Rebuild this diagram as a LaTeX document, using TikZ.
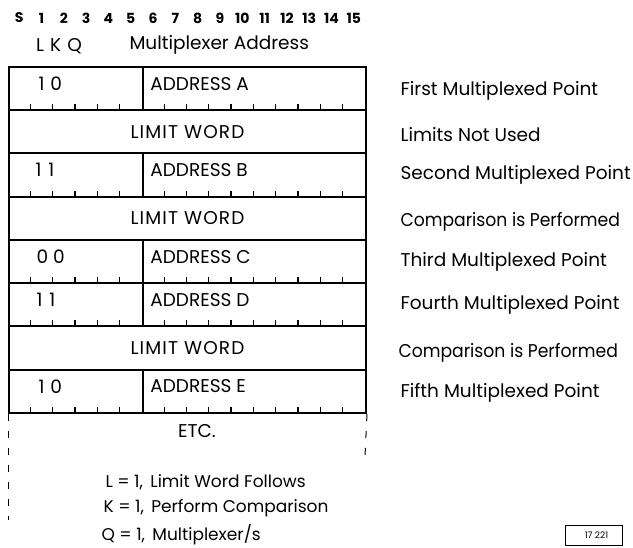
\documentclass[tikz,border=0pt]{standalone}
\usepackage{fontspec}
\setmainfont{Poppins}
\begin{document}
\begin{tikzpicture}[x=1pt, y=-1pt,
    every node/.style={font=\fontsize{18.5}{22}\selectfont},
    field/.style={draw, line width=2pt, minimum height=43.25pt, inner sep=0pt, anchor=north west},
    wide/.style={font=\fontsize{18.5}{22}\selectfont\addfontfeature{LetterSpace=6}},
    narrow/.style={font=\fontsize{18.5}{22}\selectfont\addfontfeature{FakeStretch=0.93}},
    legend/.style={anchor=west, font=\fontsize{17}{20}\selectfont},
    bit/.style={font=\fontsize{14}{16}\selectfont\bfseries},
    tick/.style={line width=1.3pt},
    etc/.style={line width=1pt, dash pattern=on 7pt off 10pt}]
    \useasboundingbox (0,0) rectangle (633,548);

    % bit numbers
    \node[bit] (b0) at (19.2,18) {S};
    \foreach \i in {1,...,15}
        \node[bit] (b\i) at (19.2+22.31*\i,18) {\i};
    \node (lkq) at (59,46) {L\,\,K\,\,Q};
    \node[anchor=west] (mux) at (126,45) {Multiplexer Address};

    % words
    \node[field, minimum width=133.9pt] (tag1) at (8,66) {};
    \node[field, minimum width=223.1pt] (addr1) at (141.9,66) {};
    \node[field, wide, minimum width=357pt] (lim2) at (8,109.25) {LIMIT WORD};
    \node[field, minimum width=133.9pt] (tag3) at (8,152.5) {};
    \node[field, minimum width=223.1pt] (addr3) at (141.9,152.5) {};
    \node[field, wide, minimum width=357pt] (lim4) at (8,195.75) {LIMIT WORD};
    \node[field, minimum width=133.9pt] (tag5) at (8,239) {};
    \node[field, minimum width=223.1pt] (addr5) at (141.9,239) {};
    \node[field, minimum width=133.9pt] (tag6) at (8,282.25) {};
    \node[field, minimum width=223.1pt] (addr6) at (141.9,282.25) {};
    \node[field, wide, minimum width=357pt] (lim7) at (8,325.5) {LIMIT WORD};
    \node[field, minimum width=133.9pt] (tag8) at (8,368.75) {};
    \node[field, minimum width=223.1pt] (addr8) at (141.9,368.75) {};

    \node[anchor=west, yshift=5pt] (v1) at ([xshift=27pt]tag1.west) {1\hspace{6pt}0};
    \node[anchor=west, yshift=5pt] (v3) at ([xshift=24pt]tag3.west) {1\hspace{7pt}1};
    \node[anchor=west, yshift=5pt] (v5) at ([xshift=25pt]tag5.west) {0\hspace{5pt}0};
    \node[anchor=west, yshift=5pt] (v6) at ([xshift=25pt]tag6.west) {1\hspace{7pt}1};
    \node[anchor=west, yshift=5pt] (v8) at ([xshift=27pt]tag8.west) {1\hspace{6pt}0};
    \node[anchor=west, yshift=5pt] (a1) at ([xshift=5pt]addr1.west) {ADDRESS A};
    \node[anchor=west, yshift=5pt] (a3) at ([xshift=5pt]addr3.west) {ADDRESS B};
    \node[anchor=west, yshift=5pt] (a5) at ([xshift=5pt]addr5.west) {ADDRESS C};
    \node[anchor=west, yshift=5pt] (a6) at ([xshift=5pt]addr6.west) {ADDRESS D};
    \node[anchor=west, yshift=5pt] (a8) at ([xshift=5pt]addr8.west) {ADDRESS E};

    % bit ticks
    \foreach \r in {1,3,5,6,8}
        \foreach \k in {1,...,5,7,8,...,15}
            \draw[tick] ([xshift=22.31*\k]tag\r.south west) -- ++(0,-7);

    % comments on the right
    \node[anchor=west] (c1) at ([xshift=30pt, yshift=-2pt]addr1.east) {First Multiplexed Point};
    \node[anchor=west] (c2) at ([xshift=30pt, yshift=-3pt]lim2.east) {Limits Not Used};
    \node[anchor=west] (c3) at ([xshift=30pt]addr3.east) {Second Multiplexed Point};
    \node[anchor=west, narrow] (c4) at ([xshift=30pt, yshift=-3pt]lim4.east) {Comparison is Performed};
    \node[anchor=west] (c5) at ([xshift=30pt]addr5.east) {Third Multiplexed Point};
    \node[anchor=west] (c6) at ([xshift=30pt]addr6.east) {Fourth Multiplexed Point};
    \node[anchor=west, narrow] (c7) at ([xshift=28pt, yshift=-5pt]lim7.east) {Comparison is Performed};
    \node[anchor=west] (c8) at ([xshift=30pt, yshift=-1pt]addr8.east) {Fifth Multiplexed Point};

    % continuation
    \coordinate (el) at (8,520);
    \coordinate (er) at (365,456);
    \draw[etc] (tag8.south west) -- (el);
    \draw[etc] (addr8.south east) -- (er);
    \node (etc) at (197,431) {ETC.};

    % legend
    \node[legend] (lg1) at (102,482) {L = 1,\, Limit Word Follows};
    \node[legend] (lg2) at (100,508) {K = 1,\, Perform Comparison};
    \node[legend] (lg3) at (98,535) {Q = 1,\, Multiplexer/s};

    \node[draw, line width=0.9pt, minimum width=57pt, minimum height=20pt, inner sep=0pt,
        font=\fontsize{9}{10}\selectfont] (fig) at (593.5,535) {\hspace{6pt}17 221};
\end{tikzpicture}
\end{document}
